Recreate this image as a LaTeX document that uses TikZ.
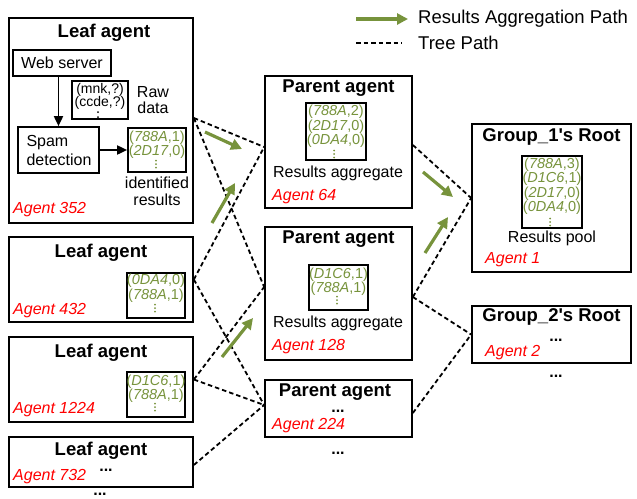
\documentclass[tikz,border=0pt]{standalone}
\usepackage{fontspec}
\setmainfont{Liberation Sans}
\usetikzlibrary{arrows.meta,calc}
\definecolor{agreen}{HTML}{77933C}
\newcommand\hsh[1]{\textit{#1}}
\newcommand\gdots[2]{\foreach \k in {-3.5,0,3.5}{\fill[agreen] ($(#1,#2)+(0,\k)$) circle[radius=1pt];}}
\begin{document}
\begin{tikzpicture}[x=1pt,y=-1pt,
  box/.style={draw=black, line width=1.7pt, inner sep=0pt},
  ttl/.style={font=\fontsize{18.5}{20}\selectfont\bfseries, inner sep=0pt},
  txt/.style={font=\fontsize{16}{17.5}\selectfont, inner sep=0pt},
  small/.style={font=\fontsize{14}{13.5}\selectfont, inner sep=0pt, align=center},
  gtxt/.style={font=\fontsize{14.5}{14.5}\selectfont, text=agreen, align=center, inner sep=0pt},
  agent/.style={font=\fontsize{16}{18}\selectfont\itshape, text=red, anchor=west, inner sep=0pt},
  ell/.style={font=\fontsize{16}{18}\selectfont\bfseries, inner sep=0pt, anchor=base},
  leg/.style={font=\fontsize{18.5}{20}\selectfont, inner sep=0pt, anchor=west},
  tree/.style={line width=1.8pt, dash pattern=on 4.5pt off 3pt},
  agg/.style={draw=agreen, line width=3.2pt, -{Triangle[length=11pt,width=11pt]}},
  flow/.style={line width=1.8pt, -{Triangle[length=10pt,width=9pt]}}]
\useasboundingbox (0,0) rectangle (637,498);

% ---------- legend
\coordinate (la1) at (356,19); \coordinate (la2) at (408,19);
\draw[agg] (la1) -- (la2);
\node[leg] (lt1) at (418,19) {Results Aggregation Path};
\coordinate (ld1) at (356,43); \coordinate (ld2) at (402,43);
\draw[tree] (ld1) -- (ld2);
\node[leg] (lt2) at (418,43) {Tree Path};

% ---------- leaf agents
\node[box, minimum width=184pt, minimum height=205pt] (l1) at (101,120.5) {};
\node[ttl] (l1t) at (104,33) {Leaf agent};
\node[box, minimum width=98pt, minimum height=26pt, txt] (ws) at (62,63) {Web server};
\node[box, minimum width=56pt, minimum height=38pt] (rd) at (100,100) {};
\node[small] (rdt) at (100,96.5) {(mnk,?)\\(ccde,?)};
\foreach \k in {-2.5,2.5}{\fill ($(98,114.5)+(0,\k)$) circle[radius=1pt];}
\node[txt, align=center, font=\fontsize{16}{16}\selectfont] (rawt) at (153,100) {Raw\\data};
\node[box, minimum width=81pt, minimum height=46pt] (sp) at (58.5,150) {};
\node[txt, align=left, font=\fontsize{16}{19}\selectfont] (spt) at (59,150) {Spam\\detection};
\node[box, minimum width=58pt, minimum height=44pt] (g1) at (157,150) {};
\node[gtxt] (g1t) at (157,144.5) {(\hsh{788A},1)\\(\hsh{2D17},0)};
\gdots{156}{164}
\node[txt, align=center, font=\fontsize{16}{17}\selectfont] (idt) at (157,191.5) {identified\\results};
\node[agent] (a352) at (13,210) {Agent 352};
\draw[flow] (sp.north |- ws.south) -- (sp.north);
\draw[flow] (sp.east) -- (g1.west);

\node[box, minimum width=184pt, minimum height=85pt] (l2) at (101,279.5) {};
\node[ttl] (l2t) at (101,253) {Leaf agent};
\node[box, minimum width=58pt, minimum height=45pt] (g2) at (156,295.5) {};
\node[gtxt] (g2t) at (156,288) {(\hsh{0DA4},0)\\(\hsh{788A},1)};
\gdots{155}{308}
\node[agent] (a432) at (13,311) {Agent 432};

\node[box, minimum width=184pt, minimum height=85pt] (l3) at (101,379.5) {};
\node[ttl] (l3t) at (101,353) {Leaf agent};
\node[box, minimum width=58pt, minimum height=45pt] (g3) at (156,394.5) {};
\node[gtxt] (g3t) at (156,388.5) {(\hsh{D1C6},1)\\(\hsh{788A},1)};
\gdots{155}{407}
\node[agent] (a1224) at (13,410) {Agent 1224};

\node[box, minimum width=184pt, minimum height=50pt] (l4) at (101,462) {};
\node[ttl] (l4t) at (101,451) {Leaf agent};
\node[ell] (l4e) at (106,471) {...};
\node[agent] (a732) at (13,477) {Agent 732};
\node[ell] (l4b) at (100,495) {...};

% ---------- parent agents
\node[box, minimum width=147pt, minimum height=132pt] (p1) at (338.5,142) {};
\node[ttl] (p1t) at (338.5,88) {Parent agent};
\node[box, minimum width=60pt, minimum height=57pt] (pg1) at (336,131.5) {};
\node[gtxt] (pg1t) at (336,126.5) {(\hsh{788A},2)\\(\hsh{2D17},0)\\(\hsh{0DA4},0)};
\gdots{334}{154}
\node[txt] (p1r) at (338,173) {Results aggregate};
\node[agent] (a64) at (272,197) {Agent 64};

\node[box, minimum width=147pt, minimum height=133pt] (p2) at (338.5,293.5) {};
\node[ttl] (p2t) at (338.5,239) {Parent agent};
\node[box, minimum width=59pt, minimum height=45pt] (pg2) at (338.5,287.5) {};
\node[gtxt] (pg2t) at (338.5,281.5) {(\hsh{D1C6},1)\\(\hsh{788A},1)};
\gdots{337}{300}
\node[txt] (p2r) at (338,323) {Results aggregate};
\node[agent] (a128) at (272,347) {Agent 128};

\node[box, minimum width=147pt, minimum height=57pt] (p3) at (338.5,408.5) {};
\node[ttl] (p3t) at (335,392) {Parent agent};
\node[ell] (p3e) at (338,412) {...};
\node[agent] (a224) at (272,426) {Agent 224};
\node[ell] (p3b) at (338,454) {...};

% ---------- roots
\node[box, minimum width=159pt, minimum height=148pt] (r1) at (551.5,198) {};
\node[ttl] (r1t) at (551.5,137) {Group\_1\textquotesingle s Root};
\node[box, minimum width=60pt, minimum height=72pt] (rg1) at (552,192) {};
\node[gtxt] (rg1t) at (552,186) {(\hsh{788A},3)\\(\hsh{D1C6},1)\\(\hsh{2D17},0)\\(\hsh{0DA4},0)};
\gdots{550}{222}
\node[txt] (r1r) at (552,238) {Results pool};
\node[agent] (a1) at (485,260) {Agent 1};

\node[box, minimum width=159pt, minimum height=57pt] (r2) at (551.5,334.5) {};
\node[ttl] (r2t) at (551.5,317) {Group\_2\textquotesingle s Root};
\node[ell] (r2e) at (556,341) {...};
\node[agent] (a2) at (485,353) {Agent 2};
\node[ell] (r2b) at (556,377) {...};

% ---------- tree path connectors
\coordinate (l1o) at ($(l1.east)+(0,-2.5)$);
\coordinate (l4o) at ($(l4.east)+(0,3)$);
\coordinate (p1i) at ($(p1.west)+(0,5)$);
\coordinate (p2i) at ($(p2.west)+(0,-6.5)$);
\coordinate (p3i) at ($(p3.west)+(0,-3.5)$);
\coordinate (p1o) at ($(p1.east)+(0,3)$);
\coordinate (p2o) at ($(p2.east)+(0,3.5)$);
\coordinate (p3o) at ($(p3.east)+(0,4.5)$);
\draw[tree] (l1o) -- (p1i);
\draw[tree] (l1o) -- (p2i);
\draw[tree] (l2.east) -- (p1i);
\draw[tree] (l2.east) -- (p3i);
\draw[tree] (l3.east) -- (p2i);
\draw[tree] (l3.east) -- (p3i);
\draw[tree] (l4o) -- (p3i);
\draw[tree] (p1o) -- (r1.west);
\draw[tree] (p2o) -- (r1.west);
\draw[tree] (p2o) -- (r2.west);
\draw[tree] (p3o) -- (r2.west);

% ---------- aggregation arrows
\coordinate (g1s) at (205,132); \coordinate (g1e) at (242,149);
\coordinate (g2s) at (212,223); \coordinate (g2e) at (235,183);
\coordinate (g3s) at (222,357); \coordinate (g3e) at (253,318);
\coordinate (g4s) at (423,172); \coordinate (g4e) at (453,197);
\coordinate (g5s) at (425,253); \coordinate (g5e) at (448,217);
\draw[agg] (g1s) -- (g1e);
\draw[agg] (g2s) -- (g2e);
\draw[agg] (g3s) -- (g3e);
\draw[agg] (g4s) -- (g4e);
\draw[agg] (g5s) -- (g5e);
\end{tikzpicture}
\end{document}
